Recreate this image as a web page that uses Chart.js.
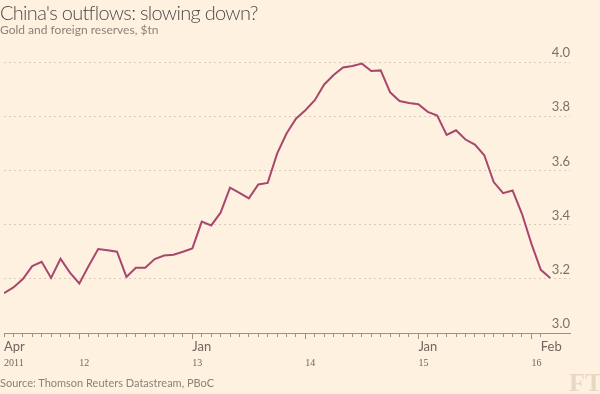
<!DOCTYPE html>
<html>
<head>
<meta charset="utf-8">
<script src="https://cdn.jsdelivr.net/npm/chart.js@4.4.1/dist/chart.umd.min.js"></script>
<style>
  html, body { margin: 0; padding: 0; background: #fff1e0; }
  #wrap { position: relative; width: 600px; height: 394px; background: #fff1e0; overflow: hidden; }
  #chart { position: absolute; left: 0; top: 0; }
  .txt { position: absolute; left: 0; white-space: nowrap; font-family: Lato, "Open Sans", sans-serif; }
  #title { top: 0px; font-size: 20px; font-weight: 300; color: #4a4a4a; letter-spacing: -0.7px; }
  #subtitle { top: 22px; font-size: 12px; color: #8c8279; }
  #source { top: 376px; font-size: 11px; color: #8c8279; }
  #logo { position: absolute; left: 569px; top: 368px; font-family: "Liberation Serif", serif; font-weight: bold; font-size: 26px; color: #e8d7c2; }
</style>
</head>
<body>
<div id="wrap">
  <canvas id="chart" width="600" height="394"></canvas>
  <div class="txt" id="title">China's outflows: slowing down?</div>
  <div class="txt" id="subtitle">Gold and foreign reserves, $tn</div>
  <div class="txt" id="source">Source: Thomson Reuters Datastream, PBoC</div>
  <div id="logo">FT</div>
</div>
<script>
// monthly reserves, Apr 2011 .. Feb 2016 ($tn)
const reserves = [
  3.147, 3.168, 3.199, 3.247, 3.263, 3.203, 3.274, 3.223, 3.183,          // 2011
  3.248, 3.310, 3.305, 3.300, 3.207, 3.241, 3.241, 3.273, 3.286, 3.289, 3.300, 3.312, // 2012
  3.411, 3.397, 3.444, 3.536, 3.517, 3.497, 3.548, 3.554, 3.662, 3.736, 3.791, 3.822, // 2013
  3.859, 3.917, 3.952, 3.980, 3.985, 3.994, 3.967, 3.969, 3.888, 3.856, 3.849, 3.844, // 2014
  3.816, 3.802, 3.731, 3.748, 3.714, 3.695, 3.656, 3.557, 3.516, 3.526, 3.440, 3.330, // 2015
  3.233, 3.203                                                              // 2016
];

const monthTickPos = [0, 20, 44, 57];
const monthTickText = ['Apr', 'Jan', 'Jan', 'Feb'];
const yearTickPos = [0, 8, 20, 32, 44, 56];
const yearTickText = ['2011', '12', '13', '14', '15', '16'];
const yearBoundaries = [8, 20, 32, 44, 56];
const yTicks = [3.0, 3.2, 3.4, 3.6, 3.8, 4.0];

const points = reserves.map((v, i) => ({ x: i, y: v }));

const axisColor = '#9b9189';

// longer tick marks at the year boundaries
const yearTicksPlugin = {
  id: 'yearTicks',
  afterDraw(chart) {
    const scale = chart.scales.x;
    const ctx = chart.ctx;
    const y0 = chart.chartArea.bottom;
    ctx.save();
    ctx.strokeStyle = axisColor;
    ctx.lineWidth = 1;
    yearBoundaries.forEach(i => {
      const x = Math.round(scale.getPixelForValue(i)) + 0.5;
      ctx.beginPath();
      ctx.moveTo(x, y0);
      ctx.lineTo(x, y0 + 6);
      ctx.stroke();
    });
    ctx.restore();
  }
};

new Chart(document.getElementById('chart'), {
  type: 'line',
  data: {
    datasets: [{
      data: points,
      borderColor: '#a8476b',
      borderWidth: 2,
      pointRadius: 0,
      tension: 0,
      fill: false
    }]
  },
  options: {
    responsive: false,
    animation: false,
    events: [],
    layout: { padding: { left: 1, right: 30, top: 62, bottom: 25 } },
    plugins: { legend: { display: false }, tooltip: { enabled: false } },
    scales: {
      x: {
        type: 'linear',
        position: 'bottom',
        min: 0,
        max: 60.1,
        afterBuildTicks: scale => {
          scale.ticks = reserves.slice(0, 58).map((_, i) => ({ value: i }));
        },
        afterFit: scale => { scale.height = 20; },
        grid: { drawOnChartArea: false, drawTicks: true, tickLength: 4, color: axisColor, tickColor: axisColor },
        border: { display: true, color: axisColor },
        ticks: {
          autoSkip: false,
          maxRotation: 0,
          align: 'start',
          padding: 2,
          color: '#6e6660',
          font: { family: 'Lato, "Open Sans", sans-serif', size: 13 },
          callback: v => {
            const k = monthTickPos.indexOf(v);
            return k >= 0 ? monthTickText[k] : '';
          }
        }
      },
      years: {
        type: 'linear',
        position: 'bottom',
        min: 0,
        max: 60.1,
        afterBuildTicks: scale => {
          scale.ticks = yearTickPos.map(v => ({ value: v }));
        },
        afterFit: scale => { scale.height = 16; },
        grid: { display: false, drawTicks: false },
        border: { display: false },
        ticks: {
          autoSkip: false,
          maxRotation: 0,
          align: 'start',
          padding: 4,
          color: '#6e6660',
          font: { family: '"Liberation Serif", serif', size: 10 },
          callback: v => {
            const k = yearTickPos.indexOf(v);
            return k >= 0 ? yearTickText[k] : '';
          }
        }
      },
      y: {
        position: 'right',
        min: 3.0,
        max: 4.0,
        afterBuildTicks: scale => {
          scale.ticks = yTicks.map(v => ({ value: v }));
        },
        afterFit: scale => { scale.width = 0; },
        grid: { drawTicks: false, color: '#d9cbb9', lineWidth: 1 },
        border: { display: false, dash: [2, 3] },
        ticks: {
          mirror: true,
          padding: 0,
          labelOffset: -9,
          color: '#7a716a',
          font: { family: 'Lato, "Open Sans", sans-serif', size: 13 },
          callback: v => v.toFixed(1)
        }
      }
    }
  },
  plugins: [yearTicksPlugin]
});
</script>
</body>
</html>
